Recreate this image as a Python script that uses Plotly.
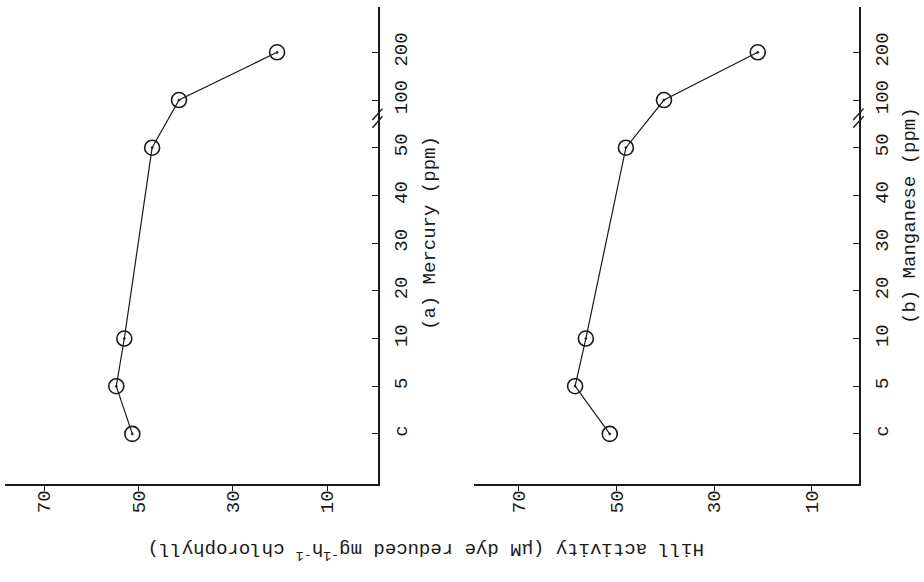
import plotly.graph_objects as go

# Concentration categories (ppm), evenly spaced on the chart
categories = ["c", "5", "10", "20", "30", "40", "50", "100", "200"]
positions = list(range(len(categories)))

# Measured concentrations (category labels) for each series
conc_measured = ["c", "5", "10", "50", "100", "200"]

# Hill activity (uM dye reduced mg^-1 h^-1 chlorophyll)
mercury_activity = [51.3, 54.7, 53.0, 47.1, 41.4, 20.6]
manganese_activity = [51.4, 58.5, 56.3, 48.1, 40.3, 21.1]

activity_ticks = [10, 30, 50, 70]
activity_ticktext = ["10", "30", "50", "70"]

FONT = "Liberation Mono"
INK = "#1a1a1a"

def cat_pos(c):
    return categories.index(c)

fig = go.Figure()

for series, xa, ya in [(mercury_activity, "x", "y"), (manganese_activity, "x2", "y2")]:
    fig.add_trace(go.Scatter(
        x=series,
        y=[cat_pos(c) for c in conc_measured],
        mode="lines+markers",
        line=dict(color=INK, width=1.2),
        marker=dict(symbol="circle-open-dot", size=15, color=INK,
                    line=dict(color=INK, width=1.6)),
        xaxis=xa, yaxis=ya, showlegend=False,
    ))

W, H = 924, 582
ydom = [(H - 484) / H, (H - 7) / H]

common_x = dict(
    showgrid=False, zeroline=False, showline=True, linecolor=INK, linewidth=1.6,
    ticks="outside", ticklen=5, tickwidth=1.3, tickcolor=INK,
    tickvals=activity_ticks, ticktext=activity_ticktext, tickangle=-90,
    tickfont=dict(family=FONT, size=19, color=INK), ticklabelstandoff=-8,
)
common_y = dict(
    showgrid=False, zeroline=False, showline=True, linecolor=INK, linewidth=1.6,
    ticks="inside", ticklen=6, tickwidth=1.3, tickcolor=INK, side="right",
    tickvals=positions, ticktext=categories, tickangle=-90,
    tickfont=dict(family=FONT, size=19, color=INK), ticklabelstandoff=4,
    range=[-1.05, 8.95], domain=ydom,
)

fig.update_layout(
    width=W, height=H,
    margin=dict(l=0, r=0, t=0, b=0),
    paper_bgcolor="white", plot_bgcolor="white",
    xaxis=dict(domain=[5 / W, 378 / W], range=[78.3, -0.8], anchor="y", **common_x),
    yaxis=dict(anchor="x", **common_y),
    xaxis2=dict(domain=[474 / W, 859 / W], range=[79.2, 0.37], anchor="y2", **common_x),
    yaxis2=dict(anchor="x2", **common_y),
)

# Axis break marks between 50 and 100
break_pos = (cat_pos("50") + cat_pos("100")) / 2 + 0.12
for xr, yr in [("x domain", "y"), ("x2 domain", "y2")]:
    for off in (-0.08, 0.08):
        fig.add_shape(type="line", xref=xr, yref=yr,
                      x0=0.985, x1=1.012, y0=break_pos + off - 0.12, y1=break_pos + off + 0.12,
                      line=dict(color=INK, width=1.4))

fig.add_annotation(text="(a) Mercury (ppm)", xref="paper", yref="paper",
                   x=430 / W, y=(H - 233) / H, xanchor="center", yanchor="middle",
                   showarrow=False, textangle=-90,
                   font=dict(family=FONT, size=19, color=INK))
fig.add_annotation(text="(b) Manganese (ppm)", xref="paper", yref="paper",
                   x=923 / W, xanchor="right", y=(H - 216) / H, yanchor="middle",
                   showarrow=False, textangle=-90,
                   font=dict(family=FONT, size=19, color=INK))
fig.add_annotation(text="Hill activity (\u03bcM dye reduced mg<sup>-1</sup>h<sup>-1</sup> chlorophyll)",
                   xref="paper", yref="paper", x=426 / W, y=(H - 551) / H,
                   xanchor="center", yanchor="middle",
                   showarrow=False, textangle=180,
                   font=dict(family=FONT, size=19, color=INK))

fig.write_html("out.html")
